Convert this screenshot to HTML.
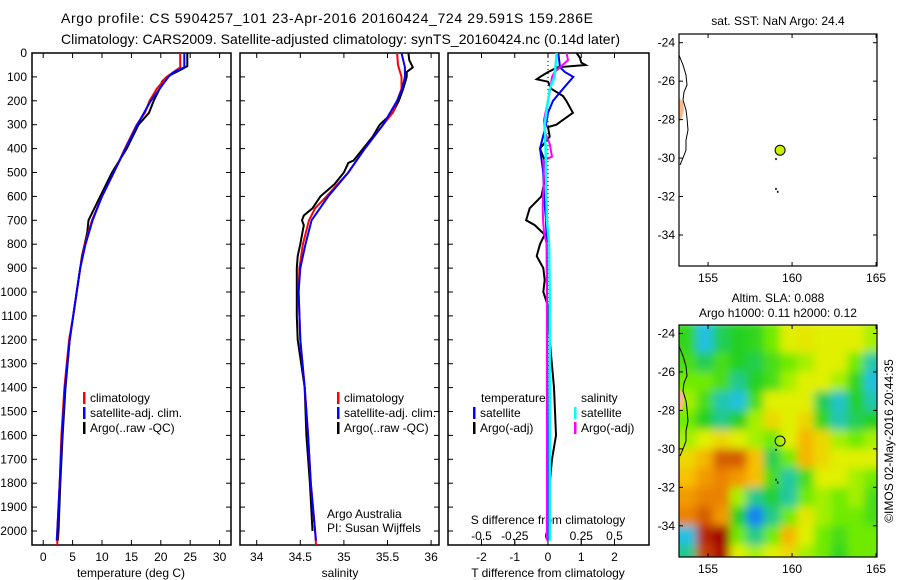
<!DOCTYPE html>
<html><head><meta charset="utf-8">
<style>
html,body{margin:0;padding:0;background:#fff;}
svg{display:block;font-family:"Liberation Sans",sans-serif;}
text{fill:#000;}
</style></head>
<body>
<svg id="c" width="900" height="580" viewBox="0 0 900 580" xmlns="http://www.w3.org/2000/svg">
<defs>
<filter id="blur" x="-5%" y="-5%" width="110%" height="110%"><feGaussianBlur stdDeviation="4.5"/></filter>
<clipPath id="mapclip"><rect x="679" y="325" width="198" height="232"/></clipPath>
</defs>
<text x="61" y="23" font-size="14" textLength="532">Argo profile: CS 5904257_101 23-Apr-2016 20160424_724 29.591S 159.286E</text>
<text x="61" y="44" font-size="14" textLength="559">Climatology: CARS2009. Satellite-adjusted climatology: synTS_20160424.nc (0.14d later)</text>
</svg>
<script>
// ---------- data ----------
const depthTicks=[0,100,200,300,400,500,600,700,800,900,1000,1100,1200,1300,1400,1500,1600,1700,1800,1900,2000];
const tempTicks=[0,5,10,15,20,25,30];
const salTicks=[34,34.5,35,35.5,36];
const tdiffTicks=[-2,-1,0,1,2];
const sdiffTicks=[-0.5,-0.25,0,0.25,0.5];
const sdiffTickLabels=["-0.5","-0.25","0","0.25","0.5"];

const tClimDepth=[0,60,100,150,200,250,300,400,500,600,700,800,900,1000,1100,1200,1400,1600,1800,2000,2058];
const tClimVal=[23.3,23.3,21.0,19.3,18.1,17.3,15.9,13.9,12.0,10.0,8.3,7.1,6.3,5.7,5.1,4.4,3.6,3.1,2.8,2.4,2.4];
const tSatDepth=[0,60,80,100,200,300,400,500,600,700,800,900,1000,1100,1200,1400,1600,1800,2000,2040];
const tSatVal=[24.0,24.0,22.2,21.3,18.3,16.0,14.0,12.0,10.0,8.4,7.2,6.3,5.7,5.1,4.5,3.7,3.2,2.8,2.4,2.3];
const tArgoDepth=[0,55,70,100,120,150,200,250,300,400,500,600,700,750,850,1000,1200,1400,1600,1800,2000,2040];
const tArgoVal=[24.5,24.5,23.4,21.0,20.2,19.8,18.8,18.0,16.2,14.2,11.7,9.7,7.7,7.5,6.6,5.7,4.5,3.8,3.3,2.9,2.6,2.5];

const sClimDepth=[0,50,100,150,200,250,300,400,500,600,650,700,800,900,1000,1200,1400,1600,1800,2000,2058];
const sClimVal=[35.61,35.62,35.66,35.66,35.61,35.56,35.45,35.24,35.05,34.80,34.67,34.60,34.53,34.49,34.48,34.50,34.55,34.59,34.62,34.67,34.68];
const sSatDepth=[0,60,100,150,200,300,400,500,600,700,800,900,1000,1200,1400,1600,1800,2000,2040];
const sSatVal=[35.66,35.70,35.70,35.67,35.61,35.45,35.24,35.05,34.82,34.63,34.56,34.50,34.48,34.50,34.55,34.59,34.62,34.67,34.68];
const sArgoDepth=[0,30,60,80,100,150,200,250,300,350,400,450,460,500,550,600,650,680,700,720,800,850,900,1000,1100,1200,1400,1600,1800,2000];
const sArgoVal=[35.74,35.75,35.79,35.72,35.72,35.68,35.63,35.56,35.41,35.33,35.22,35.11,35.05,35.00,34.89,34.73,34.64,34.54,34.52,34.54,34.50,34.47,34.46,34.46,34.46,34.47,34.55,34.57,34.61,34.64];

const dtSatDepth=[0,60,80,100,150,200,250,300,400,500,600,700,800,1000,1400,1800,2040];
const dtSatVal=[0.31,0.36,0.51,0.76,0.45,0.15,0.0,-0.06,-0.24,-0.14,-0.12,-0.06,-0.04,-0.03,-0.02,-0.01,0.0];
const dtArgoDepth=[0,20,40,50,60,80,100,110,120,150,180,200,250,300,310,350,400,450,500,600,650,700,720,760,800,850,900,950,1000,1050,1100,1200,1400,1600,1700,1800,2000];
const dtArgoVal=[0.86,0.96,1.0,1.13,0.28,0.0,-0.24,-0.34,0.0,0.1,0.45,0.55,0.75,0.25,0.0,0.05,-0.24,-0.1,-0.05,-0.2,-0.55,-0.66,-0.4,-0.1,-0.24,-0.34,-0.14,-0.1,-0.14,-0.02,0.0,0.05,0.18,0.24,0.12,0.05,0.0];
const dsSatDepth=[0,100,150,200,300,400,500,600,700,800,1000,1500,2040];
const dsSatVal=[0.065,0.05,0.013,0.0,-0.025,-0.018,-0.015,-0.012,-0.008,0.008,0.013,0.013,0.013];
const dsArgoDepth=[0,30,60,80,100,150,200,280,330,380,434,450,500,600,650,700,750,800,1000,1500,2040];
const dsArgoVal=[0.14,0.15,0.09,0.05,0.03,0.018,0.0,-0.03,-0.025,0.013,0.03,-0.037,-0.03,-0.037,-0.04,-0.037,-0.03,-0.01,-0.008,-0.008,-0.008];

// SLA heatmap (normalised 0=low/blue .. 1=high/red)
const slaLats=[-24,-25,-26,-27,-28,-29,-30,-31,-32,-33,-34,-35];
const slaLons=[153.3,154.3,155.3,156.3,157.3,158.3,159.3,160.3,161.3,162.3,163.3,164.3];
const slaGrid=[
[0.42,0.15,0.35,0.40,0.42,0.50,0.60,0.62,0.60,0.60,0.60,0.55],
[0.45,0.35,0.45,0.40,0.36,0.45,0.50,0.55,0.60,0.60,0.50,0.25],
[0.50,0.50,0.45,0.30,0.40,0.45,0.55,0.60,0.60,0.55,0.42,0.15],
[0.55,0.45,0.25,0.15,0.45,0.60,0.60,0.60,0.35,0.20,0.40,0.25],
[0.50,0.40,0.30,0.40,0.55,0.65,0.60,0.65,0.42,0.25,0.35,0.40],
[0.55,0.60,0.65,0.60,0.55,0.50,0.60,0.72,0.65,0.55,0.50,0.55],
[0.65,0.72,0.88,0.88,0.70,0.35,0.50,0.72,0.65,0.60,0.60,0.60],
[0.70,0.78,0.82,0.78,0.70,0.45,0.28,0.45,0.60,0.60,0.55,0.50],
[0.78,0.82,0.82,0.55,0.30,0.38,0.28,0.50,0.55,0.50,0.55,0.45],
[0.82,0.88,0.78,0.40,0.05,0.30,0.50,0.62,0.55,0.50,0.50,0.45],
[0.15,0.95,1.00,0.50,0.30,0.50,0.72,0.60,0.50,0.45,0.50,0.50],
[0.30,0.92,0.98,0.60,0.55,0.60,0.65,0.55,0.50,0.42,0.50,0.50]];
const argoLon=159.286, argoLat=-29.591;
const mapLonTicks=[155,160,165];
const mapLatTicks=[-24,-26,-28,-30,-32,-34];

// ---------- helpers ----------
const svg=document.getElementById('c');
const NS='http://www.w3.org/2000/svg';
function mk(tag,attrs,parent){const e=document.createElementNS(NS,tag);for(const k in attrs)e.setAttribute(k,attrs[k]);(parent||svg).appendChild(e);return e;}
function txt(x,y,s,size,anchor,parent){const t=mk('text',{x:x,y:y,'font-size':size||12,'text-anchor':anchor||'start'},parent);t.textContent=s;return t;}
const yD=d=>53+d*0.239;
const xT=v=>43.2+v*5.88;
const xS=v=>256.7+(v-34)*87.2;
const xDT=v=>548+v*33.25;
const xDS=v=>548+v*133;

function stepLine(depths,vals,xf,color,w,name){
  let pts=[];
  for(let i=0;i<depths.length;i++){
    pts.push(xf(vals[i]).toFixed(1)+','+yD(depths[i]).toFixed(1));
  }
  const p=mk('polyline',{points:pts.join(' '),fill:'none',stroke:color,'stroke-width':w||2,'stroke-linejoin':'miter'});
  
  
  return p;
}

// ---------- panels ----------
const panels=[[32,231,'temperature-panel'],[240,439,'salinity-panel'],[448,649,'difference-panel']];
panels.forEach(([l,r,n])=>{
  const g=mk('rect',{x:l,y:53,width:r-l,height:492,fill:'none',stroke:'#000','stroke-width':1.5});
  
  
  depthTicks.forEach(d=>{
    mk('line',{x1:l,x2:l+5,y1:yD(d),y2:yD(d),stroke:'#000'});
    if(n!=='difference-panel') mk('line',{x1:r-5,x2:r,y1:yD(d),y2:yD(d),stroke:'#000'});
  });
});
depthTicks.forEach(d=>{
  const t=txt(27,yD(d)+4,String(d),12,'end');
  
  
});
tempTicks.forEach(v=>{
  mk('line',{x1:xT(v),x2:xT(v),y1:545,y2:540,stroke:'#000'});
  mk('line',{x1:xT(v),x2:xT(v),y1:53,y2:58,stroke:'#000'});
  const t=txt(xT(v),561,String(v),12,'middle');
  
  
});
salTicks.forEach(v=>{
  mk('line',{x1:xS(v),x2:xS(v),y1:545,y2:540,stroke:'#000'});
  mk('line',{x1:xS(v),x2:xS(v),y1:53,y2:58,stroke:'#000'});
  const t=txt(xS(v),561,String(v),12,'middle');
  
  
});
tdiffTicks.forEach(v=>{
  mk('line',{x1:xDT(v),x2:xDT(v),y1:545,y2:540,stroke:'#000'});
  mk('line',{x1:xDT(v),x2:xDT(v),y1:53,y2:58,stroke:'#000'});
  const t=txt(xDT(v),561,String(v),12,'middle');
  
  
});
sdiffTicks.forEach((v,i)=>{
  mk('line',{x1:xDS(v),x2:xDS(v),y1:545,y2:539,stroke:'#000'});
  const t=txt(xDS(v),540,sdiffTickLabels[i],12,'middle');
  
  
});
const zl=mk('line',{x1:xDT(0),x2:xDT(0),y1:53,y2:545,stroke:'#000','stroke-dasharray':'1,3'});



[[131,577,'temperature (deg C)','temperature-axis-title'],[340,577,'salinity','salinity-axis-title'],[548,577,'T difference from climatology','t-diff-axis-title'],[548,524,'S difference from climatology','s-diff-axis-title']].forEach(a=>{
  const t=txt(a[0],a[1],a[2],12,'middle');
  
  
});

stepLine(tArgoDepth,tArgoVal,xT,'#000',2,'temp-argo-line');
stepLine(tClimDepth,tClimVal,xT,'#f00',2,'temp-clim-line');
stepLine(tSatDepth,tSatVal,xT,'#00f',2,'temp-sat-line');
stepLine(sArgoDepth,sArgoVal,xS,'#000',2,'sal-argo-line');
stepLine(sClimDepth,sClimVal,xS,'#f00',2,'sal-clim-line');
stepLine(sSatDepth,sSatVal,xS,'#00f',2,'sal-sat-line');
stepLine(dtArgoDepth,dtArgoVal,xDT,'#000',2,'tdiff-argo-line');
stepLine(dtSatDepth,dtSatVal,xDT,'#00f',2,'tdiff-sat-line');
stepLine(dsArgoDepth,dsArgoVal,xDS,'#f0f',2,'sdiff-argo-line');
stepLine(dsSatDepth,dsSatVal,xDS,'#0ff',2.5,'sdiff-sat-line');

function legend(x,y,color,label,name){
  const g=mk('g',{});
  
  
  mk('rect',{x:x,y:y-10,width:2.5,height:12,fill:color},g);
  txt(x+7,y,label,12,'start',g);
}
legend(83,402,'#f00','climatology','legend-temp-climatology');
legend(83,417,'#00f','satellite-adj. clim.','legend-temp-satellite');
legend(83,432,'#000','Argo(..raw -QC)','legend-temp-argo');
legend(337,402,'#f00','climatology','legend-sal-climatology');
legend(337,417,'#00f','satellite-adj. clim.','legend-sal-satellite');
legend(337,432,'#000','Argo(..raw -QC)','legend-sal-argo');
let t1=txt(481,402,'temperature',12);
let t2=txt(581,402,'salinity',12);
legend(473,417,'#00f','satellite','legend-tdiff-satellite');
legend(473,432,'#000','Argo(-adj)','legend-tdiff-argo');
legend(574,417,'#0ff','satellite','legend-sdiff-satellite');
legend(574,432,'#f0f','Argo(-adj)','legend-sdiff-argo');
let a1=txt(327,518,'Argo Australia',12);
let a2=txt(327,532,'PI: Susan Wijffels',12);

// ---------- maps ----------
const coast=[[0,21],[4,31],[7,41],[8,51],[5,58],[4,66],[7,76],[8,84],[9,96],[7,106],[7,116],[4,124],[1,131]];
function drawMap(top,latTop,name,heat){
  const mx=lon=>679+(lon-153.27)*16.8;
  const my=lat=>latTop+(-24-lat)*19.23;
  const g=mk('g',{});
  
  
  if(heat){
    const hg=mk('g',{'clip-path':'url(#mapclip)'},g);
    const inner=mk('g',{filter:'url(#blur)'},hg);
    slaGrid.forEach((row,i)=>row.forEach((v,j)=>{
      const r=mk('rect',{x:mx(slaLons[j])-(j===0?10:0),y:my(slaLats[i])-(i===0?12:0),width:16.8+(j===0?10:0)+(j===11?12:0)+0.5,height:19.23+(i===0?12:0)+(i===11?12:0)+0.5,fill:cmap(v)},inner);
      
      
    }));
  }
  mk('path',{d:`M679 ${top+64} L683 ${top+68} L684 ${top+76} L682 ${top+84} L679 ${top+88} Z`,fill:'#f5b98a'},g);
  const cp=mk('polyline',{points:coast.map(p=>(679+p[0])+','+(top+p[1])).join(' '),fill:'none',stroke:'#000','stroke-width':1},g);
  
  
  mk('rect',{x:679,y:top,width:198,height:232,fill:'none',stroke:'#000','stroke-width':1.2},g);
  mapLonTicks.forEach(v=>{
    mk('line',{x1:mx(v),x2:mx(v),y1:top,y2:top+4,stroke:'#000'},g);
    mk('line',{x1:mx(v),x2:mx(v),y1:top+232,y2:top+228,stroke:'#000'},g);
    txt(mx(v),top+248,String(v),12,'middle',g);
  });
  mapLatTicks.forEach(v=>{
    mk('line',{x1:679,x2:683,y1:my(v),y2:my(v),stroke:'#000'},g);
    mk('line',{x1:877,x2:873,y1:my(v),y2:my(v),stroke:'#000'},g);
    txt(675,my(v)+4,String(v),12,'end',g);
  });
  mk('rect',{x:mx(159.0),y:my(-31.55),width:1.5,height:2,fill:'#000'},g);
  mk('rect',{x:mx(159.1),y:my(-31.7),width:1.5,height:2,fill:'#000'},g);
  mk('rect',{x:mx(159.0),y:my(-30.0),width:1.5,height:2,fill:'#000'},g);
  const dot=mk('circle',{cx:mx(argoLon),cy:my(argoLat),r:5,fill:heat?'none':'#c8f000',stroke:'#000','stroke-width':1},g);
  
  
}
function cmap(v){
  const stops=[[0,[16,96,255]],[0.15,[32,192,224]],[0.28,[32,200,160]],[0.4,[32,208,32]],[0.52,[128,240,0]],[0.6,[224,240,0]],[0.7,[248,192,0]],[0.8,[240,144,0]],[0.9,[208,80,0]],[1,[160,0,0]]];
  for(let i=1;i<stops.length;i++){
    if(v<=stops[i][0]){const a=stops[i-1],b=stops[i];const f=(v-a[0])/(b[0]-a[0]);
      return 'rgb('+a[1].map((c,k)=>Math.round(c+(b[1][k]-c)*f)).join(',')+')';}
  }
  return 'rgb(160,0,0)';
}
drawMap(34,42.7,'sst-map',false);
drawMap(325,333.5,'sla-map',true);
let m1=txt(778,25,'sat. SST: NaN Argo: 24.4',12,'middle');
let m2=txt(778,302,'Altim. SLA: 0.088',12,'middle');
let m3=txt(778,317,'Argo h1000: 0.11 h2000: 0.12',12,'middle');
let ts=txt(0,0,'©IMOS 02-May-2016 20:44:35',12,'middle');
ts.setAttribute('transform','translate(893,441) rotate(-90)');


</script>
</body></html>
